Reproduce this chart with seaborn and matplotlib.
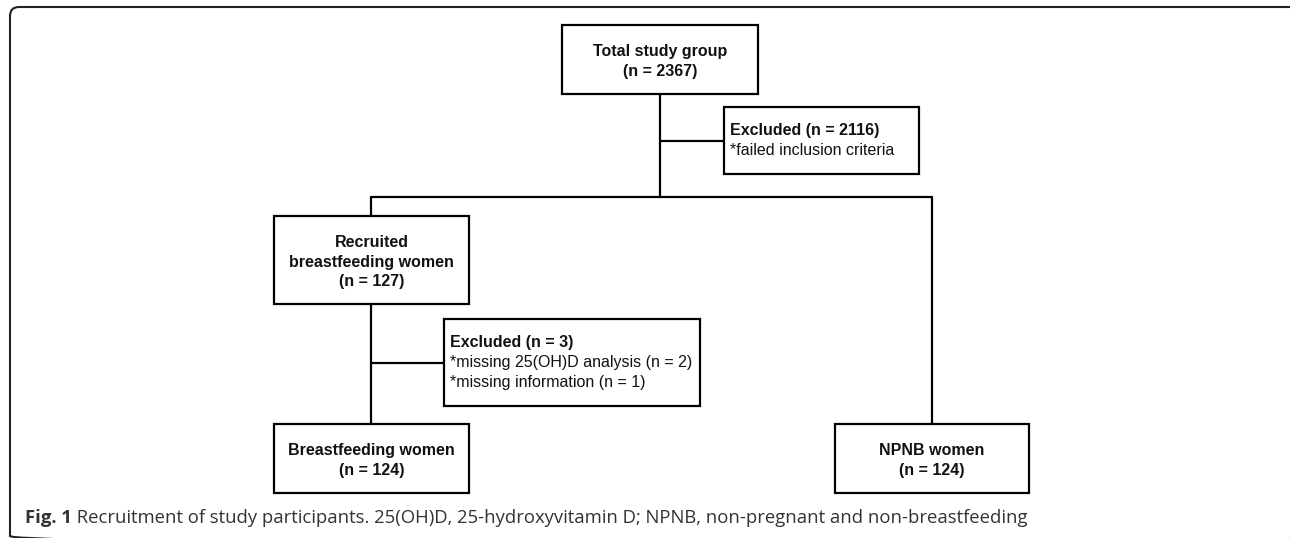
import matplotlib
matplotlib.use("Agg")
import matplotlib.pyplot as plt
import seaborn as sns
from matplotlib.patches import FancyBboxPatch, Rectangle

# flowchart content
stages = ["Total study group", "Recruited\nbreastfeeding women", "Breastfeeding women", "NPNB women"]
stage_n = [2367, 127, 124, 124]
excl_n = [2116, 3]
excl_reasons = [["*failed inclusion criteria"],
                ["*missing 25(OH)D analysis (n = 2)", "*missing information (n = 1)"]]
caption_bold = "Fig. 1"
caption_text = (" Recruitment of study participants. 25(OH)D, 25-hydroxyvitamin D; "
                "NPNB, non-pregnant and non-breastfeeding")

# layout (pixels, y downwards)
stage_boxes = [(562, 25, 758, 94), (274, 216, 469, 304), (274, 424, 469, 493), (835, 424, 1029, 493)]
excl_boxes = [(724, 107, 919, 174), (444, 319, 700, 406)]
connectors = [
    [(660, 94), (660, 197)],
    [(660, 141), (724, 141)],
    [(371, 197), (932, 197)],
    [(371, 197), (371, 216)],
    [(932, 197), (932, 424)],
    [(371, 304), (371, 424)],
    [(371, 363), (444, 363)],
]

sns.set_style("white")
plt.rcParams["font.family"] = ["Liberation Sans", "DejaVu Sans"]

fig = plt.figure(figsize=(12.9, 5.38), dpi=100)
ax = fig.add_axes([0, 0, 1, 1])
ax.set_xlim(0, 1290)
ax.set_ylim(538, 0)
ax.axis("off")

# outer frame (only top and left edges fall inside the picture)
frame = FancyBboxPatch((10, 7), 1288, 538, boxstyle="round,pad=0,rounding_size=9",
                       fill=False, ec="#222222", lw=1.5, clip_on=True)
ax.add_patch(frame)

lw = 1.6
fs = 11.5
for seg in connectors:
    (x0, y0), (x1, y1) = seg
    sns.lineplot(x=[x0, x1], y=[y0, y1], ax=ax, color="black", lw=lw,
                 sort=False, estimator=None)

for (x0, y0, x1, y1), name, n in zip(stage_boxes, stages, stage_n):
    ax.add_patch(Rectangle((x0, y0), x1 - x0, y1 - y0, fill=False, ec="black", lw=lw))
    ax.text((x0 + x1) / 2, (y0 + y1) / 2 + 2, f"{name}\n(n = {n})", ha="center", va="center",
            fontsize=fs, fontweight="bold", linespacing=1.4, color="#111111")

for (x0, y0, x1, y1), n, reasons in zip(excl_boxes, excl_n, excl_reasons):
    ax.add_patch(Rectangle((x0, y0), x1 - x0, y1 - y0, fill=False, ec="black", lw=lw))
    nlines = 1 + len(reasons)
    step = 19.5
    top = (y0 + y1) / 2 - step * (nlines - 1) / 2
    ax.text(x0 + 6, top, f"Excluded (n = {n})", ha="left", va="center",
            fontsize=fs, fontweight="bold", color="#111111")
    for i, r in enumerate(reasons):
        ax.text(x0 + 6, top + step * (i + 1), r, ha="left", va="center", fontsize=fs,
                color="#111111")

t = ax.text(25, 518, caption_bold, ha="left", va="center", fontsize=13.3,
            fontweight="bold", color="#333333", family=["Open Sans", "DejaVu Sans"])
ax.annotate(caption_text, xy=(1, 0), xycoords=t, ha="left", va="bottom", fontsize=13.3,
            color="#333333", family=["Open Sans", "DejaVu Sans"])

fig.savefig("out.png", dpi=100, facecolor="white")
